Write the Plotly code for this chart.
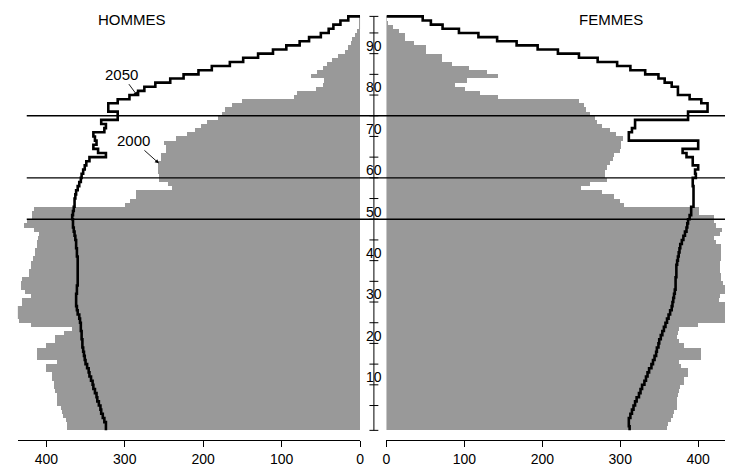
import numpy as np
import plotly.graph_objects as go

# ---------------- data (thousands of people, by single year of age) ----------------
ages = list(range(100))

hommes_2000 = [374, 374, 375, 379, 380, 381, 386, 387, 387, 389,
               391, 391, 393, 393, 401, 401, 387, 412, 412, 412,
               400, 389, 389, 378, 368, 420, 435, 440, 443, 443,
               431, 431, 420, 428, 433, 433, 431, 422, 422, 420,
               420, 417, 414, 414, 412, 412, 411, 410, 416, 429,
               425, 418, 418, 416, 300, 294, 286, 286, 240, 245,
               256, 256, 258, 258, 258, 254, 254, 248, 248, 250,
               235, 221, 210, 203, 195, 181, 176, 172, 164, 151,
               84, 80, 57, 48, 46, 63, 55, 48, 42, 36,
               28, 19, 15, 12, 10, 7, 4, 2, 1, 0.5]

femmes_2000 = [360, 362, 366, 368, 370, 373, 374, 374, 375, 376,
               377, 383, 383, 387, 387, 379, 376, 404, 404, 404,
               383, 376, 374, 375, 376, 400, 440, 440, 440, 440,
               440, 427, 428, 440, 440, 432, 430, 430, 428, 428,
               428, 430, 430, 430, 430, 424, 421, 428, 431, 424,
               421, 421, 402, 402, 305, 300, 292, 277, 250, 262,
               283, 281, 281, 283, 288, 291, 292, 300, 302, 302,
               304, 295, 287, 277, 271, 268, 262, 256, 254, 247,
               144, 120, 101, 89, 104, 144, 129, 106, 85, 72,
               72, 51, 51, 36, 25, 25, 17, 8.5, 2, 1]

hommes_2050 = [324, 324, 326, 328, 330, 331, 333, 335, 336, 338,
               340, 341, 343, 345, 346, 348, 350, 351, 352, 353,
               354, 354, 355, 355, 356, 356, 357, 358, 360, 361,
               362, 362, 362, 361, 361, 360, 360, 360, 360, 360,
               360, 360, 361, 361, 362, 362, 363, 364, 365, 366,
               366, 367, 366, 365, 364, 364, 363, 362, 360, 358,
               356, 355, 353, 351, 349, 345, 324, 334, 340, 336,
               338, 340, 326, 324, 330, 309, 309, 321, 321, 309,
               294, 283, 275, 261, 242, 225, 206, 189, 166, 149,
               130, 111, 94, 77, 65, 50, 40, 34, 25, 15]

femmes_2050 = [312, 311, 311, 313, 315, 317, 319, 321, 324, 326,
               328, 331, 333, 335, 337, 340, 342, 344, 346, 347,
               349, 350, 352, 354, 356, 358, 360, 362, 364, 366,
               367, 368, 369, 370, 371, 371, 371, 372, 372, 372,
               373, 374, 375, 376, 377, 379, 381, 383, 385, 386,
               387, 389, 391, 391, 394, 394, 394, 394, 394, 393,
               393, 397, 396, 400, 393, 393, 385, 380, 400, 400,
               311, 311, 315, 319, 319, 387, 387, 412, 412, 404,
               389, 374, 374, 366, 357, 349, 332, 313, 296, 271,
               247, 220, 194, 167, 142, 118, 93, 72, 57, 46.5]

x_ticks = [0, 100, 200, 300, 400]
age_ticks = list(range(5, 100, 5))
age_label_vals = [10, 20, 30, 40, 50, 60, 70, 80, 90]
age_labels = ["10", "20", "30", "40", "50", "60", "70", "80", "90"]
ref_lines = [50, 60, 75]

# ---------------- figure ----------------
W, H = 729, 467
FONT = "Liberation Sans, Arial, Helvetica, sans-serif"
GREY = "#999999"

age_arr = np.array(ages, dtype=float)
y_bar = age_arr - 0.5             # bar of age a covers [a-1, a] on the age scale
y_step = list(age_arr - 1) + [99]  # step outline start points, closed at the top

fig = go.Figure()

fig.add_trace(go.Bar(x=hommes_2000, y=y_bar, orientation="h", width=1,
                     marker=dict(color=GREY, line=dict(width=0)),
                     xaxis="x", yaxis="y", showlegend=False, hoverinfo="skip"))
fig.add_trace(go.Bar(x=femmes_2000, y=y_bar, orientation="h", width=1,
                     marker=dict(color=GREY, line=dict(width=0)),
                     xaxis="x2", yaxis="y", showlegend=False, hoverinfo="skip"))

fig.add_trace(go.Scatter(x=list(hommes_2050) + [0], y=y_step, mode="lines",
                         line=dict(color="black", width=2.6, shape="vh"),
                         xaxis="x", yaxis="y", showlegend=False, hoverinfo="skip"))
fig.add_trace(go.Scatter(x=list(femmes_2050) + [0], y=y_step, mode="lines",
                         line=dict(color="black", width=2.6, shape="vh"),
                         xaxis="x2", yaxis="y", showlegend=False, hoverinfo="skip"))

# pixel geometry helpers
left_x0, left_x1 = 14, 360
right_x0, right_x1 = 386.7, 729
centre_x = 374
y_range = [-3.33, 102.96]

axis_common = dict(showgrid=False, zeroline=False, showline=True, linecolor="black",
                   linewidth=1, ticks="outside", ticklen=6, tickwidth=1, tickcolor="black",
                   tickvals=x_ticks, ticktext=[str(v) for v in x_ticks],
                   tickfont=dict(family=FONT, size=14, color="black"), anchor="y",
                   fixedrange=True)

fig.update_layout(
    width=W, height=H, autosize=False,
    margin=dict(l=0, r=0, t=0, b=23, pad=0),
    paper_bgcolor="white", plot_bgcolor="white",
    bargap=0, barmode="overlay",
    font=dict(family=FONT, size=14, color="black"),
    xaxis=dict(domain=[left_x0 / W, left_x1 / W], range=[436.3, 0], **axis_common),
    xaxis2=dict(domain=[right_x0 / W, right_x1 / W], range=[0, 434.4], **axis_common),
    yaxis=dict(domain=[0, 1], range=y_range, visible=False, fixedrange=True),
)

shapes = []
# reference horizontal lines
for v in ref_lines:
    shapes.append(dict(type="line", xref="paper", yref="y", x0=23 / W, x1=1, y0=v, y1=v,
                       line=dict(color="black", width=1.3)))
# central age axis
shapes.append(dict(type="line", xref="paper", yref="y", x0=centre_x / W, x1=centre_x / W,
                   y0=-1, y1=99, line=dict(color="black", width=1)))
for t in age_ticks + [-1, 99]:
    shapes.append(dict(type="line", xref="paper", yref="y", x0=(centre_x - 4.5) / W,
                       x1=(centre_x + 4.5) / W, y0=t, y1=t, line=dict(color="black", width=1)))
fig.update_layout(shapes=shapes)

annotations = []
for v, txt in zip(age_label_vals, age_labels):
    annotations.append(dict(x=centre_x / W, xref="paper", y=v, yref="y", text=txt,
                            showarrow=False, yshift=7.6, xanchor="center", yanchor="middle",
                            font=dict(family=FONT, size=14, color="black")))

annotations.append(dict(x=129 / W, xref="paper", y=1 - 20 / 444, yref="paper", text="HOMMES",
                        showarrow=False, xanchor="center", yanchor="middle",
                        font=dict(family=FONT, size=15, color="black")))
annotations.append(dict(x=614 / W, xref="paper", y=1 - 19.5 / 444, yref="paper", text="FEMMES",
                        showarrow=False, xanchor="center", yanchor="middle",
                        font=dict(family=FONT, size=15, color="black")))
annotations.append(dict(x=283.7, xref="x", y=79.8, yref="y", text="2050", showarrow=True,
                        ax=-16, ay=-21.7, arrowhead=2, arrowsize=0.9, arrowwidth=0.9,
                        arrowcolor="black", font=dict(family=FONT, size=15, color="black")))
annotations.append(dict(x=256.4, xref="x", y=63.5, yref="y", text="2000", showarrow=True,
                        ax=-25.7, ay=-23, arrowhead=2, arrowsize=0.9, arrowwidth=0.9,
                        arrowcolor="black", font=dict(family=FONT, size=15, color="black")))
fig.update_layout(annotations=annotations)

fig.write_html("out.html", config={"displayModeBar": False},
               post_script="document.body.style.margin='0';document.body.style.padding='0';")
